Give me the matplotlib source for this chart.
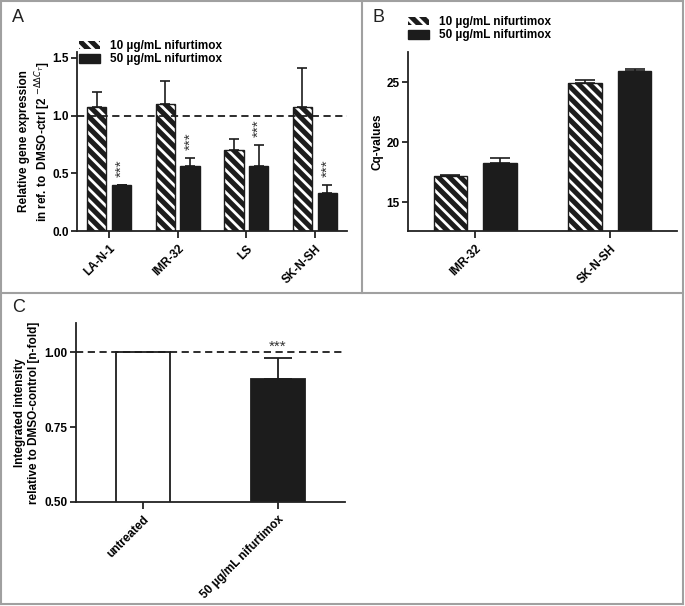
""" Three panel figure: qPCR expression (A), Cq values (B) and
    integrated intensity (C) after nifurtimox treatment. """

import matplotlib
matplotlib.use('Agg')
import matplotlib.pyplot as plt
from matplotlib.patches import Patch
from matplotlib.lines import Line2D
import numpy as np

plt.rcParams['font.family'] = ['Liberation Sans', 'DejaVu Sans']
plt.rcParams['hatch.linewidth'] = 2.0

# ---- data ----
# panel A
cells_a = ['LA-N-1', 'IMR-32', 'LS', 'SK-N-SH']
a_10 = [1.07, 1.10, 0.70, 1.07]
a_10_err = [0.13, 0.20, 0.10, 0.34]
a_50 = [0.40, 0.565, 0.565, 0.33]
a_50_err = [0.0, 0.065, 0.18, 0.07]

# panel B
cells_b = ['IMR-32', 'SK-N-SH']
b_10 = [17.17, 24.9]
b_10_err = [0.12, 0.3]
b_50 = [18.3, 25.9]
b_50_err = [0.35, 0.2]

# panel C
groups_c = ['untreated', '50 \u00b5g/mL nifurtimox']
c_vals = [1.00, 0.91]
c_err = [0.0, 0.07]

legend_labels = ['10 \u00b5g/mL nifurtimox', '50 \u00b5g/mL nifurtimox']

BLACK = '#1c1c1c'
HATCH = '\\\\\\'
W, H = 685, 606


def px_axes(fig, left, right, top, bottom):
    """ axes from pixel box (origin top-left) """
    return fig.add_axes([left / W, 1 - bottom / H, (right - left) / W, (bottom - top) / H])


def hatched_bar(ax, x, h, width):
    ax.bar(x, h, width, color=BLACK, edgecolor='white', hatch=HATCH, linewidth=0, zorder=2)
    ax.bar(x, h, width, fill=False, edgecolor=BLACK, linewidth=1.0, zorder=3)


def style_axes(ax):
    for s in ['top', 'right']:
        ax.spines[s].set_visible(False)
    for s in ['left', 'bottom']:
        ax.spines[s].set_linewidth(1.3)
        ax.spines[s].set_color('#222222')
    ax.tick_params(axis='both', width=1.3, length=4, labelsize=8.5, color='#222222')
    ax.tick_params(axis='x', length=5)
    ax.tick_params(axis='y', pad=2)
    for lab in ax.get_xticklabels() + ax.get_yticklabels():
        lab.set_fontweight('bold')


def add_legend(ax, x, y):
    handles = [Patch(facecolor=BLACK, edgecolor='white', hatch=HATCH, linewidth=0),
               Patch(facecolor=BLACK, edgecolor=BLACK)]
    ax.legend(handles, legend_labels, loc='upper left', bbox_to_anchor=(x, y),
              bbox_transform=ax.figure.transFigure, frameon=False, borderpad=0,
              borderaxespad=0, handlelength=1.8, handleheight=0.75, labelspacing=0.12,
              handletextpad=0.85, prop={'weight': 'bold', 'size': 8.5})


fig = plt.figure(figsize=(6.85, 6.06), dpi=100)

# ---- panel A ----
ax = px_axes(fig, 77, 347, 52, 231)
xa = np.arange(len(cells_a))
bw, off = 0.28, 0.18
for i in range(len(cells_a)):
    hatched_bar(ax, xa[i] - off, a_10[i], bw)
ax.bar(xa + off, a_50, bw, color=BLACK, edgecolor=BLACK, linewidth=1.0, zorder=2)
ax.errorbar(xa - off, a_10, yerr=[np.zeros(4), a_10_err], fmt='none', ecolor=BLACK,
            elinewidth=1.2, capsize=3.6, capthick=1.2, zorder=1)
ax.errorbar(xa + off, a_50, yerr=[np.zeros(4), a_50_err], fmt='none', ecolor=BLACK,
            elinewidth=1.2, capsize=3.6, capthick=1.2, zorder=1)
ax.axhline(1.0, color=BLACK, ls=(0, (4, 2.5)), lw=1.3, zorder=4)
for i in range(len(cells_a)):
    ax.text(xa[i] + off, a_50[i] + a_50_err[i] + 0.07, '***', rotation=90,
            ha='center', va='bottom', fontsize=11, color='#333333')
ax.set_xlim(-0.47, 3.47)
ax.set_ylim(0, 1.55)
ax.set_yticks([0, 0.5, 1.0, 1.5])
ax.set_yticklabels(['0.0', '0.5', '1.0', '1.5'])
ax.set_xticks(xa)
ax.set_xticklabels(cells_a, rotation=45, ha='right', rotation_mode='anchor')
ax.set_ylabel('Relative gene expression\nin ref. to  DMSO-ctrl [2 $^{-\\Delta\\Delta C_T}$]',
              fontsize=8.5, fontweight='bold')
ax.yaxis.set_label_coords(-0.09, 0.5)
style_axes(ax)
add_legend(ax, 79 / W, 1 - 40 / H)

# ---- panel B ----
ax = px_axes(fig, 408, 677, 52, 231)
xb = np.arange(len(cells_b))
bw, off = 0.25, 0.185
for i in range(len(cells_b)):
    hatched_bar(ax, xb[i] - off, b_10[i], bw)
ax.bar(xb + off, b_50, bw, color=BLACK, edgecolor=BLACK, linewidth=1.0, zorder=2)
ax.errorbar(xb - off, b_10, yerr=[np.zeros(2), b_10_err], fmt='none', ecolor=BLACK,
            elinewidth=1.2, capsize=7, capthick=1.2, zorder=1)
ax.errorbar(xb + off, b_50, yerr=[np.zeros(2), b_50_err], fmt='none', ecolor=BLACK,
            elinewidth=1.2, capsize=7, capthick=1.2, zorder=1)
ax.set_xlim(-0.5, 1.5)
ax.set_ylim(12.6, 27.5)
ax.set_yticks([15, 20, 25])
ax.set_xticks(xb)
ax.set_xticklabels(cells_b, rotation=45, ha='right', rotation_mode='anchor')
ax.set_ylabel('Cq-values', fontsize=8.5, fontweight='bold')
ax.yaxis.set_label_coords(-0.09, 0.5)
style_axes(ax)
add_legend(ax, 408 / W, 1 - 16 / H)

# ---- panel C ----
ax = px_axes(fig, 76, 345, 323, 502)
xc = np.arange(len(groups_c))
ax.bar(xc, c_vals, 0.4, color=['white', BLACK], edgecolor=BLACK, linewidth=1.3, zorder=2)
ax.errorbar(xc[1:], c_vals[1:], yerr=[[0], c_err[1:]], fmt='none', ecolor=BLACK,
            elinewidth=1.3, capsize=10, capthick=1.3, zorder=1)
ax.axhline(1.0, color=BLACK, ls=(0, (4, 2.5)), lw=1.3, zorder=4)
ax.text(xc[1], 0.993, '***', ha='center', va='bottom', fontsize=11, color='#333333')
ax.set_xlim(-0.5, 1.5)
ax.set_ylim(0.5, 1.097)
ax.set_yticks([0.5, 0.75, 1.0])
ax.set_yticklabels(['0.50', '0.75', '1.00'])
ax.set_xticks(xc)
ax.set_xticklabels(groups_c, rotation=45, ha='right', rotation_mode='anchor')
ax.set_ylabel('Integrated intensity\nrelative to DMSO-control [n-fold]',
              fontsize=8.5, fontweight='bold')
ax.yaxis.set_label_coords(-0.135, 0.5)
style_axes(ax)

# panel letters
fig.text(12 / W, 1 - 18 / H, 'A', fontsize=13, va='center', ha='left', color='#222222')
fig.text(373 / W, 1 - 18 / H, 'B', fontsize=13, va='center', ha='left', color='#222222')
fig.text(12 / W, 1 - 308 / H, 'C', fontsize=13, va='center', ha='left', color='#222222')

# panel frames
grey = '#a0a0a0'
def fline(x0, y0, x1, y1):
    fig.add_artist(Line2D([x0 / W, x1 / W], [1 - y0 / H, 1 - y1 / H], color=grey, lw=1.5))

fline(1, 1, 683, 1)
fline(1, 1, 1, 604)
fline(683, 1, 683, 604)
fline(1, 604, 683, 604)
fline(1, 293, 683, 293)
fline(362, 1, 362, 293)

fig.savefig('out.png', dpi=100, facecolor='white')
